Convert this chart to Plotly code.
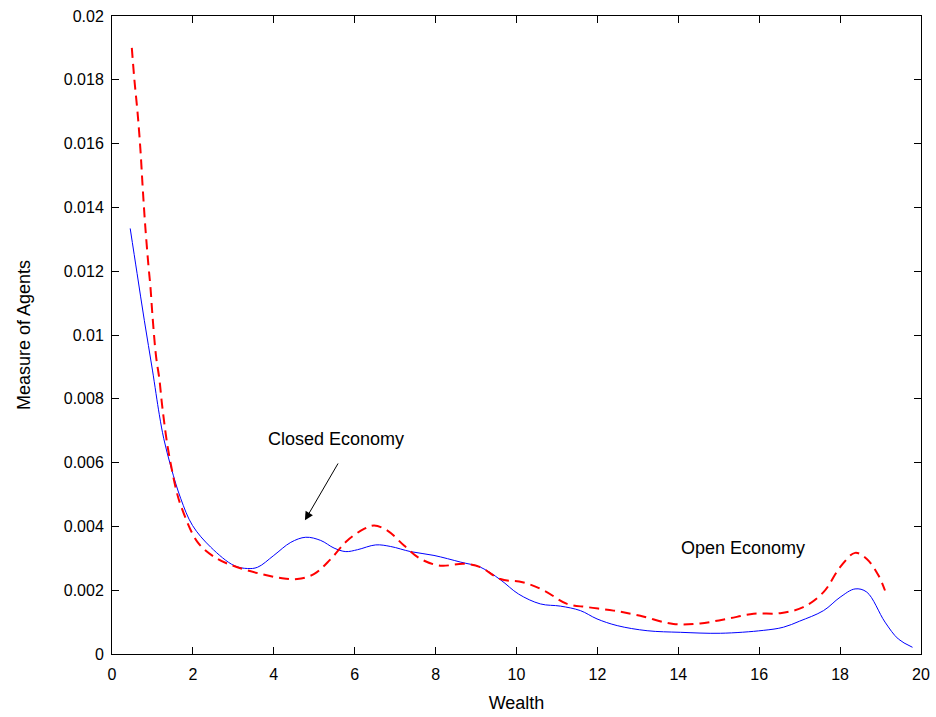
import plotly.graph_objects as go

# Closed economy (blue, solid)
closed_x = [0.45, 0.62, 0.80, 1.0, 1.17, 1.28, 1.46, 1.70, 1.99, 2.44, 3.02, 3.35, 3.6, 4.0, 4.42,
            4.79, 5.16, 5.49, 5.78, 6.07, 6.52, 6.89, 7.38, 7.96, 8.62, 9.11, 9.6, 10.05,
            10.59, 11.09, 11.58, 11.99, 12.49, 13.23, 14.05, 15.04, 16.1, 16.6, 17.0, 17.59,
            18.0, 18.37, 18.66, 19.11, 19.44, 19.79]
closed_y = [13.34, 11.93, 10.45, 8.9, 7.5, 6.75, 5.85, 4.87, 4.03, 3.35, 2.77, 2.68, 2.72, 3.09, 3.5,
            3.66, 3.56, 3.32, 3.21, 3.27, 3.42, 3.37, 3.21, 3.09, 2.88, 2.72, 2.33, 1.88,
            1.57, 1.50, 1.36, 1.10, 0.89, 0.73, 0.68, 0.65, 0.74, 0.84, 1.03, 1.36,
            1.78, 2.04, 1.94, 1.0, 0.47, 0.21]

# Open economy (red, dashed)
open_x = [0.49, 0.55, 0.63, 0.70, 0.76, 0.82, 0.90, 0.95, 1.0, 1.09, 1.17, 1.23, 1.29, 1.37, 1.46,
          1.58, 1.70, 2.12, 2.61, 3.1, 3.68, 4.17, 4.58, 5.0, 5.41, 5.82, 6.23, 6.48, 6.81, 7.22,
          7.63, 8.12, 8.7, 9.11, 9.6, 10.15, 10.68, 11.25, 11.75, 12.4, 13.06, 13.88, 14.54,
          15.2, 15.86, 16.52, 17.09, 17.59, 18.0, 18.37, 18.66, 18.95, 19.11]
open_y = [19.0, 18.05, 17.0, 15.86, 14.6, 13.45, 12.19, 11.51, 10.62, 9.32, 8.63, 7.9, 7.27, 6.54, 5.91,
          5.18, 4.66, 3.5, 2.98, 2.72, 2.51, 2.38, 2.35, 2.51, 2.98, 3.56, 3.92, 4.03, 3.87, 3.40,
          2.98, 2.77, 2.83, 2.72, 2.35, 2.25, 1.99, 1.57, 1.47, 1.36, 1.2, 0.94, 0.96,
          1.10, 1.26, 1.28, 1.47, 1.94, 2.72, 3.17, 2.98, 2.46, 1.99]

x_ticks = [0, 2, 4, 6, 8, 10, 12, 14, 16, 18, 20]
y_ticks = [0, 0.002, 0.004, 0.006, 0.008, 0.01, 0.012, 0.014, 0.016, 0.018, 0.02]
y_tick_labels = ["0", "0.002", "0.004", "0.006", "0.008", "0.01", "0.012", "0.014", "0.016", "0.018", "0.02"]

FONT = "Liberation Sans, Arial, sans-serif"

fig = go.Figure()
fig.add_trace(go.Scatter(
    x=closed_x, y=[v / 1000 for v in closed_y], mode="lines",
    line=dict(color="#0000ff", width=1, shape="spline", smoothing=1.0),
    name="Closed Economy", showlegend=False))
fig.add_trace(go.Scatter(
    x=open_x, y=[v / 1000 for v in open_y], mode="lines",
    line=dict(color="#ff0000", width=2, dash="10px,6px", shape="spline", smoothing=1.0),
    name="Open Economy", showlegend=False))

fig.add_annotation(x=4.77, y=0.00419, ax=5.61, ay=0.00602, xref="x", yref="y",
                   axref="x", ayref="y", text="", showarrow=True,
                   arrowhead=2, arrowsize=1.7, arrowwidth=1, arrowcolor="black")
fig.add_annotation(x=5.53, y=0.00675, text="Closed Economy", showarrow=False,
                   font=dict(family=FONT, size=18, color="black"))
fig.add_annotation(x=15.61, y=0.00332, text="Open Economy", showarrow=False,
                   font=dict(family=FONT, size=18, color="black"))

axis_common = dict(showgrid=False, zeroline=False, showline=True, linecolor="black",
                   linewidth=1, mirror="ticks", ticks="inside", ticklen=7, tickwidth=1,
                   tickcolor="black", automargin=False,
                   tickfont=dict(family=FONT, size=16, color="black"))

fig.update_xaxes(range=[0, 20], tickvals=x_ticks, ticklabelstandoff=6,
                 title=dict(text="Wealth", font=dict(family=FONT, size=18, color="black"), standoff=14),
                 **axis_common)
fig.update_yaxes(range=[0, 0.02], tickvals=y_ticks, ticktext=y_tick_labels, ticklabelstandoff=4,
                 title=dict(text="Measure of Agents", font=dict(family=FONT, size=18, color="black"), standoff=28),
                 **axis_common)

fig.update_layout(width=936, height=717, margin=dict(l=112, r=15, t=16, b=63),
                  plot_bgcolor="white", paper_bgcolor="white")

fig.write_html("out.html", config={"displayModeBar": False},
               post_script="document.body.style.margin='0px';document.body.style.overflow='hidden';")
